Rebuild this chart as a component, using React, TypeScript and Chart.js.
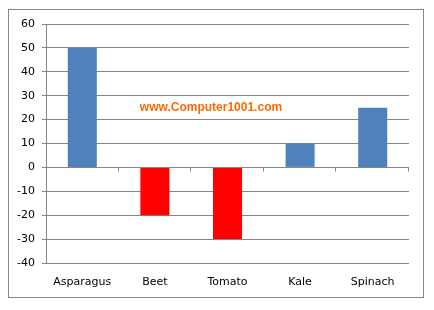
import React, { useEffect, useRef } from "react";
import { Chart, registerables } from "chart.js";

Chart.register(...registerables);

const categories = ["Asparagus", "Beet", "Tomato", "Kale", "Spinach"];
const values = [50, -20, -30, 10, 25];
const yMin = -40;
const yMax = 60;
const yStep = 10;
const watermark = "www.Computer1001.com";

const BLUE = "#4F81BD";
const RED = "#FF0000";
const GRID = "#868686";

const extrasPlugin = {
  id: "extras",
  beforeDraw(chart: any) {
    const ctx = chart.ctx;
    ctx.save();
    ctx.fillStyle = "#FFFFFF";
    ctx.fillRect(0, 0, chart.width, chart.height);
    ctx.strokeStyle = GRID;
    ctx.lineWidth = 1;
    ctx.strokeRect(8.5, 9.5, 415, 288);
    ctx.restore();
  },
  afterDatasetsDraw(chart: any) {
    const ctx = chart.ctx;
    const xs = chart.scales.x;
    const ys = chart.scales.y;
    const y0 = Math.round(ys.getPixelForValue(0)) + 0.5;
    ctx.save();
    ctx.strokeStyle = GRID;
    ctx.lineWidth = 1;
    ctx.beginPath();
    const n = categories.length;
    for (let i = 1; i <= n; i++) {
      const x = Math.round(xs.left + (i * xs.width) / n) - 0.5;
      ctx.moveTo(x, y0);
      ctx.lineTo(x, y0 + 4);
    }
    ctx.stroke();
    ctx.fillStyle = "#FF6A00";
    ctx.font = "bold 12px 'Liberation Sans', Arial, sans-serif";
    ctx.textAlign = "center";
    ctx.textBaseline = "middle";
    ctx.fillText(watermark, 211, 108);
    ctx.restore();
  },
};

export default function App() {
  const ref = useRef<HTMLCanvasElement | null>(null);
  useEffect(() => {
    if (!ref.current) return;
    const chart = new Chart(ref.current, {
      type: "bar",
      data: {
        labels: categories,
        datasets: [
          {
            data: values,
            backgroundColor: values.map((v) => (v >= 0 ? BLUE : RED)),
            barPercentage: 0.4,
            categoryPercentage: 1.0,
          },
        ],
      },
      options: {
        responsive: false,
        animation: false,
        layout: { padding: { left: 8, top: 24, right: 25, bottom: 17 } },
        plugins: { legend: { display: false }, tooltip: { enabled: false } },
        scales: {
          x: {
            grid: { display: false },
            border: { display: false },
            ticks: {
              color: "#000000",
              font: { family: "'DejaVu Sans', sans-serif", size: 11 },
              padding: 5,
              maxRotation: 0,
            },
            afterFit(scale: any) {
              scale.height = 30;
            },
          },
          y: {
            min: yMin,
            max: yMax,
            grid: { color: GRID, tickLength: 4, lineWidth: 1 },
            border: { display: true, color: GRID },
            ticks: {
              stepSize: yStep,
              color: "#000000",
              font: { family: "'DejaVu Sans', sans-serif", size: 11 },
              padding: 7,
            },
            afterFit(scale: any) {
              scale.width = 38;
            },
          },
        },
      },
      plugins: [extrasPlugin],
    });
    return () => chart.destroy();
  }, []);
  return (
    <canvas
      ref={ref}
      width={434}
      height={310}
      style={{ position: "absolute", left: 0, top: 0, display: "block" }}
    />
  );
}
